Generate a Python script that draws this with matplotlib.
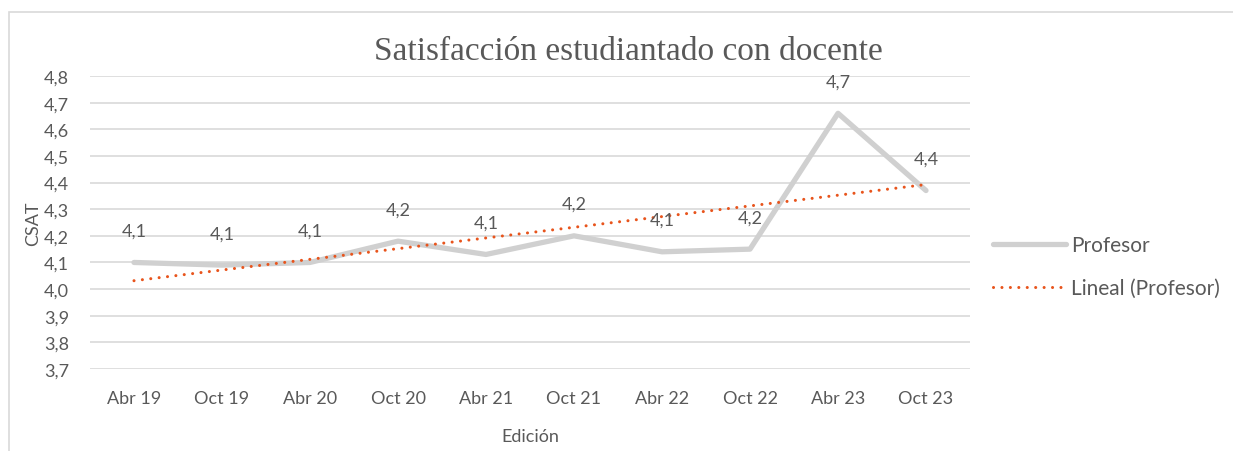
import matplotlib
matplotlib.use('Agg')
import numpy as np
import matplotlib.pyplot as plt
from matplotlib.patches import Rectangle

# data
ediciones = ['Abr 19', 'Oct 19', 'Abr 20', 'Oct 20', 'Abr 21',
             'Oct 21', 'Abr 22', 'Oct 22', 'Abr 23', 'Oct 23']
csat = [4.10, 4.09, 4.10, 4.18, 4.13, 4.20, 4.14, 4.15, 4.66, 4.37]
y_ticks = [3.7, 3.8, 3.9, 4.0, 4.1, 4.2, 4.3, 4.4, 4.5, 4.6, 4.7, 4.8]

text_col = '#595959'
grid_col = '#D9D9D9'
line_col = '#D0D0D0'
trend_col = '#E8541C'
sans = ['Lato', 'DejaVu Sans']

plt.rcParams['font.family'] = sans

fig = plt.figure(figsize=(12.33, 4.52), dpi=100)
# light chart frame
fig.patches.append(Rectangle((9 / 1233, -0.1), 1.2, 1 - 13 / 452 + 0.1,
                             transform=fig.transFigure, fill=False,
                             edgecolor='#D9D9D9', linewidth=1.2))

ax = fig.add_axes([90 / 1233, 1 - 370 / 452, 880 / 1233, 293 / 452])

x = np.arange(len(ediciones))
ax.plot(x, csat, color=line_col, linewidth=3.8, solid_capstyle='round',
        solid_joinstyle='round', label='Profesor', zorder=3)

# linear trend, same as Excel's "Lineal"
coef = np.polyfit(x + 1, csat, 1)
trend = np.polyval(coef, x + 1)
ax.plot(x, trend, color=trend_col, linewidth=2.2, linestyle=(0, (0.01, 2.75)),
        dash_capstyle='round', label='Lineal (Profesor)', zorder=4)

for xi, v in zip(x, csat):
    ax.annotate(f'{v:.1f}'.replace('.', ','), (xi, v), xytext=(0, 23),
                textcoords='offset points', ha='center', va='center',
                fontsize=13, color=text_col, zorder=5)

ax.set_xlim(-0.5, len(ediciones) - 0.5)
ax.set_ylim(3.7, 4.8)
ax.set_xticks(x)
ax.set_xticklabels(ediciones)
ax.set_yticks(y_ticks)
ax.set_yticklabels([f'{t:.1f}'.replace('.', ',') for t in y_ticks])
ax.tick_params(axis='both', length=0, labelsize=13, labelcolor=text_col)
ax.tick_params(axis='y', pad=15)
ax.tick_params(axis='x', pad=15)
for s in ax.spines.values():
    s.set_visible(False)
ax.yaxis.grid(True, color=grid_col, linewidth=1.2)
ax.set_axisbelow(True)

ax.set_ylabel('CSAT', fontsize=13, color=text_col, labelpad=2)
ax.set_xlabel('Edición', fontsize=13, color=text_col, labelpad=16)

fig.text(628 / 1233, 1 - 52 / 452, 'Satisfacción estudiantado con docente',
         ha='center', va='center', fontsize=24, color=text_col,
         family=['Liberation Serif', 'DejaVu Serif'])

leg = ax.legend(loc='center left', bbox_to_anchor=(1.005, 0.35), frameon=False,
                fontsize=15, handlelength=3.5, handletextpad=0.25,
                labelspacing=1.1, labelcolor=text_col)

fig.savefig('out.png', dpi=100)
